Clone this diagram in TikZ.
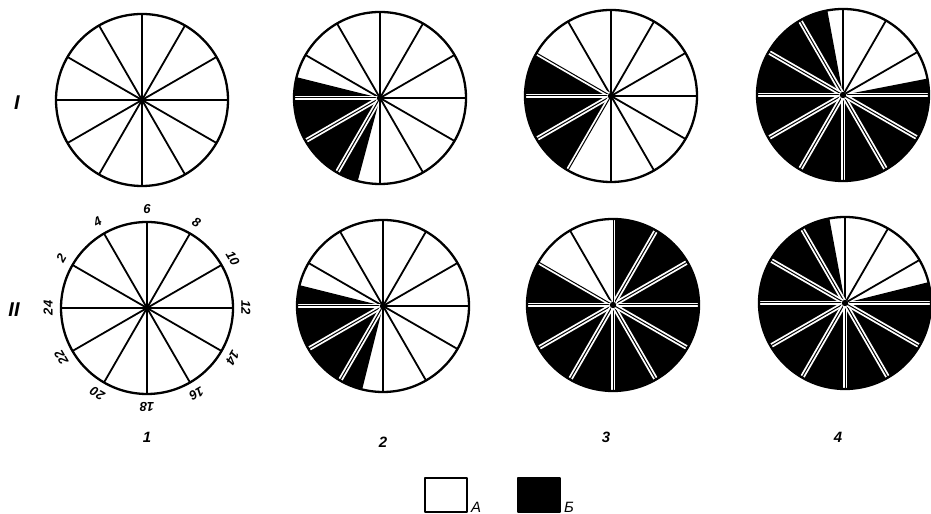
\documentclass[tikz,border=0pt]{standalone}
\usepackage{fontspec}
\setmainfont{Liberation Sans}
\begin{document}
\begin{tikzpicture}[x=1bp,y=1bp,line join=round]
\useasboundingbox (0,0) rectangle (931,514);
\tikzset{
 rim/.style={line width=2.3bp},
 spoke/.style={line width=1.8bp},
 gapw/.style={white,line width=4.6bp},
 gapb/.style={line width=1bp},
 hourlbl/.style={font=\fontsize{13}{13}\selectfont\itshape\bfseries,inner sep=0pt},
 rowlbl/.style={font=\fontsize{20}{20}\selectfont\itshape\bfseries,inner sep=0pt},
 collbl/.style={font=\fontsize{15}{15}\selectfont\itshape\bfseries,inner sep=0pt},
 legbox/.style={draw,line width=1.8bp,minimum width=42bp,minimum height=34bp,inner sep=0pt},
 leglbl/.style={font=\fontsize{15}{15}\selectfont\itshape,inner sep=0pt,anchor=south west},
}
\newcommand\wheel[4]{%
 \coordinate (#1) at #2;
 \ifdim #3pt<#4pt
   \fill (#1) -- ++(#3:86) arc[start angle=#3,end angle=#4,radius=86] -- cycle;
 \fi
 \foreach \a in {0,30,...,330}{%
   \pgfmathtruncatemacro\inb{or(and(\a>=#3,\a<=#4),and(\a+360>=#3,\a+360<=#4))}%
   \ifnum\inb=1
     \draw[gapw] (#1) -- ++(\a:86);
     \draw[gapb] (#1) -- ++(\a:86);
   \else
     \draw[spoke] (#1) -- ++(\a:86);
   \fi
 }
 \fill (#1) circle (3.2);
 \draw[rim] (#1) circle (86);
}
% row I
\wheel{w11}{(142,414)}{-1000}{-1000}
\wheel{w12}{(380,416)}{166}{255}
\wheel{w13}{(611,418)}{150}{240}
\wheel{w14}{(843,419)}{100.5}{371}
% row II
\wheel{w21}{(147,206)}{-1000}{-1000}
\wheel{w22}{(383,208)}{166}{256}
\wheel{w23}{(613,209)}{150}{450}
\wheel{w24}{(845,211)}{100.5}{374}
% hour labels
\foreach \h in {2,4,...,24}{
  \pgfmathsetmacro\ang{180-\h*15}
  \node[hourlbl,rotate=\ang-90] (h\h) at ([shift={(\ang:99)}]w21) {\h};
}
% row labels
\node[rowlbl] (rI) at (17,411) {I};
\node[rowlbl] (rII) at (14,204) {II};
% column labels
\node[collbl] (c1) at (147,77) {1};
\node[collbl] (c2) at (383,72) {2};
\node[collbl] (c3) at (606,77) {3};
\node[collbl] (c4) at (838,77) {4};
% legend
\node[legbox] (legA) at (446,19) {};
\node[legbox,fill=black] (legB) at (539,19) {};
\node[leglbl] (tA) at ([xshift=3bp]legA.south east) {А};
\node[leglbl] (tB) at ([xshift=3bp]legB.south east) {Б};
\end{tikzpicture}
\end{document}
